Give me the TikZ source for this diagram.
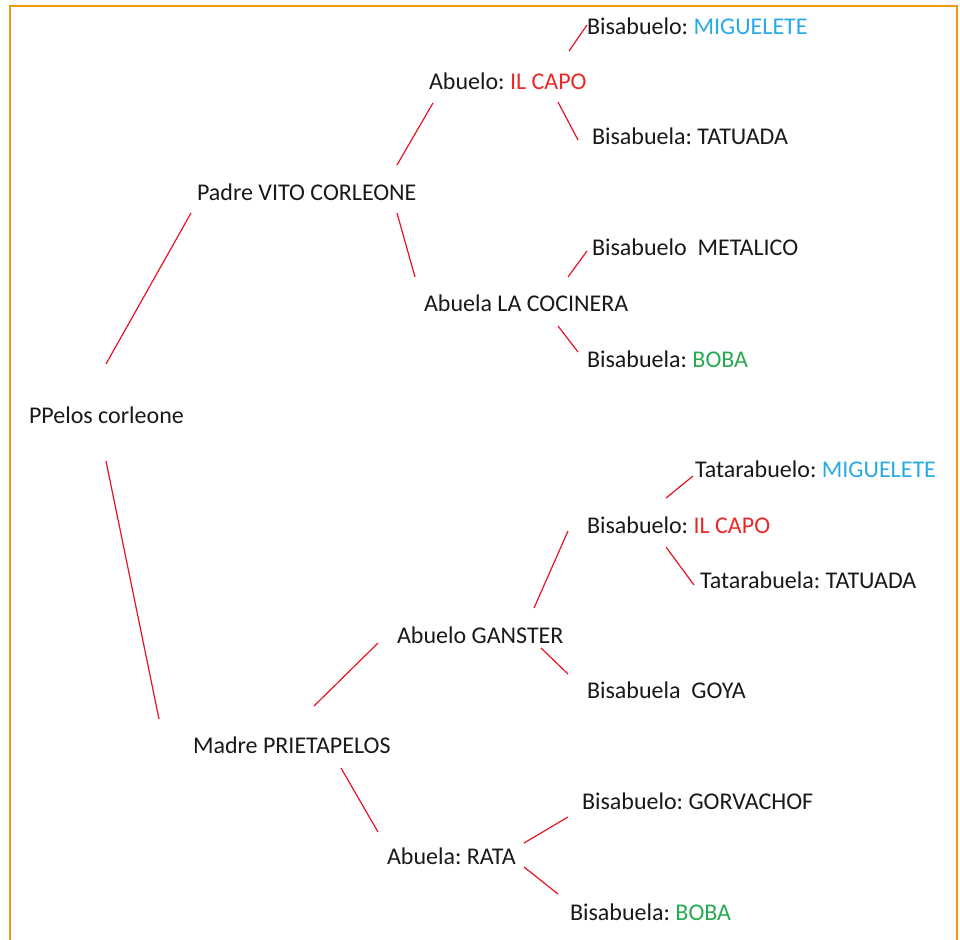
\documentclass[tikz,border=0pt]{standalone}
\usepackage{fontspec}
\setmainfont{Carlito}
\usetikzlibrary{calc}
\definecolor{txt}{RGB}{25,25,25}
\definecolor{lnk}{RGB}{230,20,35}
\definecolor{frm}{RGB}{240,152,20}
\definecolor{cblue}{RGB}{40,170,230}
\definecolor{cred}{RGB}{235,40,40}
\definecolor{cgreen}{RGB}{40,170,80}
\frenchspacing
\tikzset{
  person/.style={anchor=base west, inner sep=0pt, outer sep=0pt, text=txt, font=\fontsize{18}{20}\selectfont},
  link/.style={draw=lnk, line width=0.9pt},
}
\begin{document}
\begin{tikzpicture}[x=0.75pt,y=-0.75pt]
\useasboundingbox (0,0) rectangle (960,939);
\draw[frm, line width=2pt] (10,945) -- (10,6) -- (957,6) -- (957,945);

\node[person] (m1) at (587,34) {Bisabuelo: \textcolor{cblue}{MIGUELETE}};
\node[person] (a1) at (429,89) {Abuelo: \textcolor{cred}{IL CAPO}};
\node[person] (t1) at (592,144) {Bisabuela: TATUADA};
\node[person] (padre) at (197,200) {Padre VITO CORLEONE};
\node[person] (met) at (592,255) {Bisabuelo\ \ METALICO};
\node[person] (coc) at (424,311) {Abuela LA COCINERA};
\node[person] (boba1) at (587,367) {Bisabuela: \textcolor{cgreen}{BOBA}};
\node[person] (pp) at (29,423) {PPelos corleone};
\node[person] (tmig) at (695,477) {Tatarabuelo: \textcolor{cblue}{MIGUELETE}};
\node[person] (bcapo) at (587,533) {Bisabuelo: \textcolor{cred}{IL CAPO}};
\node[person] (ttat) at (700,588) {Tatarabuela: TATUADA};
\node[person] (gan) at (397,643) {Abuelo GANSTER};
\node[person] (goya) at (587,698) {Bisabuela\ \ GOYA};
\node[person] (madre) at (193,753) {Madre PRIETAPELOS};
\node[person] (gorv) at (582,809) {Bisabuelo: GORVACHOF};
\node[person] (rata) at (387,864) {Abuela: RATA};
\node[person] (boba2) at (570,920) {Bisabuela: \textcolor{cgreen}{BOBA}};

\draw[link] ($(pp.base west)+(77,-59)$) -- ($(padre.base west)+(-6,13)$);
\draw[link] ($(pp.base west)+(77,38)$) -- ($(madre.base west)+(-34,-34)$);
\draw[link] ($(padre.base west)+(200,-35)$) -- ($(a1.base west)+(4,14)$);
\draw[link] ($(padre.base west)+(200,13)$) -- ($(coc.base west)+(-9,-34)$);
\draw[link] ($(a1.base west)+(140,-38)$) -- ($(m1.base west)+(0,-9)$);
\draw[link] ($(a1.base west)+(129,13)$) -- ($(t1.base west)+(-14,-4)$);
\draw[link] ($(coc.base west)+(144,-34)$) -- ($(met.base west)+(-5,-4)$);
\draw[link] ($(coc.base west)+(134,15)$) -- ($(boba1.base west)+(-9,-15)$);
\draw[link] ($(madre.base west)+(121,-47)$) -- ($(gan.base west)+(-19,0)$);
\draw[link] ($(madre.base west)+(148,15)$) -- ($(rata.base west)+(-9,-32)$);
\draw[link] ($(gan.base west)+(137,-35)$) -- ($(bcapo.base west)+(-19,-2)$);
\draw[link] ($(gan.base west)+(144,5)$) -- ($(goya.base west)+(-19,-24)$);
\draw[link] ($(bcapo.base west)+(79,-35)$) -- ($(tmig.base west)+(-2,-1)$);
\draw[link] ($(bcapo.base west)+(79,14)$) -- ($(ttat.base west)+(-6,-3)$);
\draw[link] ($(rata.base west)+(137,-21)$) -- ($(gorv.base west)+(-14,8)$);
\draw[link] ($(rata.base west)+(137,3)$) -- ($(boba2.base west)+(-12,-26)$);
\end{tikzpicture}
\end{document}
